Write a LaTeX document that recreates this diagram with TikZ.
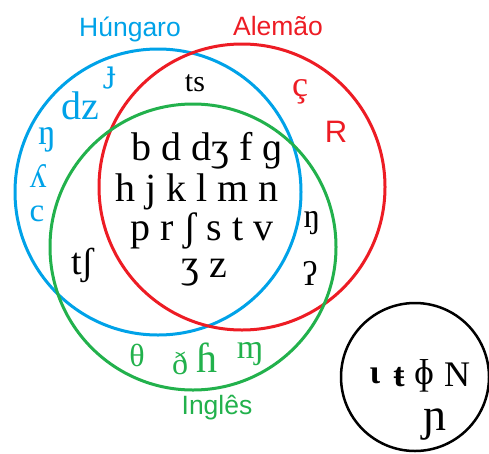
\documentclass[tikz,border=0pt]{standalone}
\usepackage{fontspec}
\setmainfont{Liberation Serif}
\newfontfamily\labelfont{Liberation Sans}
\newfontfamily\altfont{DejaVu Serif}
\definecolor{pblue}{RGB}{0,162,232}
\definecolor{pred}{RGB}{237,28,36}
\definecolor{pgreen}{RGB}{34,177,76}
\begin{document}
\begin{tikzpicture}[x=1pt,y=-1pt,
  ring/.style={circle, draw=#1, line width=3pt, inner sep=0pt, minimum size=286pt},
  sym/.style={inner sep=0pt, font=\fontsize{#1}{#1}\selectfont},
  lab/.style={inner sep=0pt, font=\labelfont\fontsize{26.5}{26.5}\selectfont}]
\useasboundingbox (0,0) rectangle (489,453);
% circles
\node[ring=pblue] (hu) at (158,192) {};
\node[ring=pred] (de) at (242,187) {};
\node[ring=pgreen] (en) at (193,247) {};
\node[circle, draw=black, line width=2.5pt, inner sep=0pt, minimum size=148pt] (other) at (415,377) {};
% labels
\node[lab, text=pblue] (lhu) at (130,29) {Húngaro};
\node[lab, text=pred] (lde) at (278,26) {Alemão};
\node[lab, text=pgreen] (len) at (217,408) {Inglês};
% Hungarian only
\node[inner sep=0pt, font=\altfont\fontsize{30}{30}\selectfont, text=pblue] (h1) at (111,78) {ɟ};
\node[sym=40, text=pblue] (h2) at (80,106) {dz};
\node[sym=36, text=pblue] (h3) at (47,140) {ŋ};
\node[sym=34, text=pblue] (h4) at (38,176) {ʎ};
\node[sym=33, text=pblue] (h5) at (37,214) {c};
% German only
\node[sym=36, text=pred] (d1) at (300,92) {ç};
\node[inner sep=0pt, text=pred, font=\labelfont\fontsize{31}{31}\selectfont] (d2) at (336,132) {R};
% shared
\node[sym=30] (hd) at (195,83) {ts};
\node[sym=38] (he) at (83,265) {tʃ};
\node[sym=34] (de1) at (312,223) {ŋ};
\node[sym=34] (de2) at (310,273) {ʔ};
% all three
\node[sym=40, anchor=base] (r1) at (207,160) {b d dʒ f ɡ};
\node[sym=40, anchor=base] (r2) at (197,201) {h j k l m n};
\node[sym=40, anchor=base] (r3) at (202,240) {p r ʃ s t v};
\node[sym=40, anchor=base] (r4) at (204,277) {ʒ z};
% English only
\node[sym=32, text=pgreen] (e1) at (137,355) {θ};
\node[sym=32, text=pgreen] (e2) at (180,363) {ð};
\node[sym=42, text=pgreen] (e3) at (207,358) {ɦ};
\node[sym=34, text=pgreen] (e4) at (250,354) {ɱ};
% other
\node[inner sep=0pt, font=\bfseries\fontsize{34}{34}\selectfont] (o1) at (375,376) {ɩ};
\node[inner sep=0pt, font=\bfseries\fontsize{34}{34}\selectfont] (o2) at (399,377) {ŧ};
\node[sym=36] (o3) at (424,376) {ɸ};
\node[sym=36] (o4) at (457,375) {N};
\node[sym=46] (o5) at (435,425) {ɲ};
\end{tikzpicture}
\end{document}
